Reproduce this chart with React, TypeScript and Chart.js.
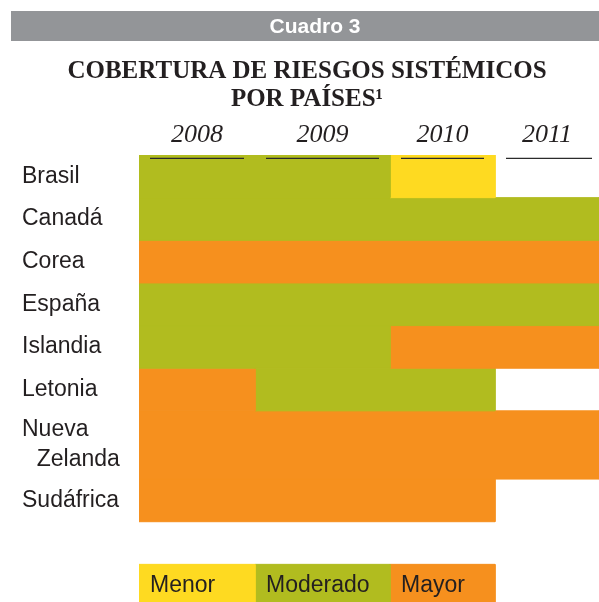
import { useEffect, useRef } from 'react';
import { Chart, registerables } from 'chart.js';

Chart.register(...registerables);

// ---------- data ----------
const YEARS = ['2008', '2009', '2010', '2011'];
const COUNTRIES = ['Brasil', 'Canadá', 'Corea', 'España', 'Islandia', 'Letonia', 'Nueva Zelanda', 'Sudáfrica'];
const LEVELS = ['Menor', 'Moderado', 'Mayor'];
// coverage level per year: 0 = Menor, 1 = Moderado, 2 = Mayor, null = sin dato
const BRASIL = [1, 1, 0, null];
const CANADA = [1, 1, 1, 1];
const COREA = [2, 2, 2, 2];
const ESPANA = [1, 1, 1, 1];
const ISLANDIA = [1, 1, 2, 2];
const LETONIA = [2, 1, 1, null];
const NUEVA_ZELANDA = [2, 2, 2, 2];
const SUDAFRICA = [2, 2, 2, null];
const COVERAGE: (number | null)[][] = [BRASIL, CANADA, COREA, ESPANA, ISLANDIA, LETONIA, NUEVA_ZELANDA, SUDAFRICA];

// ---------- layout / style ----------
const COLUMN_SPANS = [1.16, 1.35, 1.05, 1.04];
const ROW_SPANS = [1, 1, 1, 1, 1, 1, 1.6, 1];
const GAP_SPAN = 1;
const LEGEND_SPAN = 1;
const LEVEL_COLORS = ['#FEDA21', '#B1BC1F', '#F6901E'];
const TEXT = '#231F20';

const cumulative = (spans: number[]) => spans.reduce((acc, s) => [...acc, acc[acc.length - 1] + s], [0]);
const colEdges = cumulative(COLUMN_SPANS);
const rowEdges = cumulative(ROW_SPANS);
const legendTop = rowEdges[rowEdges.length - 1] + GAP_SPAN;
const legendBottom = legendTop + LEGEND_SPAN;
const xMax = colEdges[colEdges.length - 1];
const yMax = legendBottom;
const colCenters = COLUMN_SPANS.map((_, i) => (colEdges[i] + colEdges[i + 1]) / 2);
const rowCenters = ROW_SPANS.map((_, i) => (rowEdges[i] + rowEdges[i + 1]) / 2);

function cell(x0: number, x1: number, y0: number, y1: number, color: string, label: string) {
  return {
    label,
    data: [
      { x: x0, y: y0 },
      { x: x1, y: y0 },
      { x: x1, y: y1 },
      { x: x0, y: y1 },
      { x: x0, y: y0 },
    ],
    showLine: true,
    fill: 'shape',
    tension: 0,
    backgroundColor: color,
    borderColor: color,
    borderWidth: 1,
    pointRadius: 0,
    pointHoverRadius: 0,
  };
}

function buildDatasets() {
  const ds: any[] = [];
  COVERAGE.forEach((row, r) => {
    let c = 0;
    while (c < row.length) {
      const lv = row[c];
      if (lv === null) {
        c++;
        continue;
      }
      let e = c;
      while (e + 1 < row.length && row[e + 1] === lv) e++;
      ds.push(
        cell(colEdges[c], colEdges[e + 1], rowEdges[r], rowEdges[r + 1], LEVEL_COLORS[lv],
          `${COUNTRIES[r]} ${YEARS[c]}-${YEARS[e]}: ${LEVELS[lv]}`)
      );
      c = e + 1;
    }
  });
  LEVELS.forEach((name, i) => {
    ds.push(cell(colEdges[i], colEdges[i + 1], legendTop, legendBottom, LEVEL_COLORS[i], name));
  });
  return ds;
}

const headerPlugin = {
  id: 'header',
  beforeDraw(chart: any) {
    const { ctx } = chart;
    ctx.save();
    ctx.fillStyle = '#939598';
    ctx.fillRect(11, 11, chart.width - 11, 30);
    ctx.fillStyle = '#FFFFFF';
    ctx.font = 'bold 21px "Liberation Sans", Arial, sans-serif';
    ctx.textAlign = 'center';
    ctx.textBaseline = 'alphabetic';
    ctx.fillText('Cuadro 3', 315, 32.7);
    ctx.fillStyle = TEXT;
    ctx.font = 'bold 25px "Liberation Serif", "Times New Roman", serif';
    ctx.fillText('COBERTURA DE RIESGOS SISTÉMICOS', 307, 78.3);
    ctx.fillText('POR PAÍSES¹', 307, 106.3);
    ctx.restore();
  },
};

const overlayPlugin = {
  id: 'overlay',
  afterDatasetsDraw(chart: any) {
    const { ctx, chartArea, scales } = chart;
    const x = scales.x;
    const y = scales.y;
    ctx.save();
    ctx.strokeStyle = '#2B2B2B';
    ctx.lineWidth = 1.3;
    const ly = chartArea.top + 3.3;
    YEARS.forEach((_, i) => {
      const x0 = x.getPixelForValue(colEdges[i]) + 11;
      const x1 = i === YEARS.length - 1 ? chartArea.right - 7 : x.getPixelForValue(colEdges[i + 1]) - 11;
      ctx.beginPath();
      ctx.moveTo(x0, ly);
      ctx.lineTo(x1, ly);
      ctx.stroke();
    });
    ctx.fillStyle = TEXT;
    ctx.font = '23px "Liberation Sans", Arial, sans-serif';
    ctx.textAlign = 'left';
    ctx.textBaseline = 'middle';
    const cy = y.getPixelForValue((legendTop + legendBottom) / 2);
    LEVELS.forEach((name, i) => {
      ctx.fillText(name, x.getPixelForValue(colEdges[i]) + 11, cy);
    });
    ctx.restore();
  },
};

const noPadding = (scale: any) => {
  scale.paddingTop = 0;
  scale.paddingBottom = 0;
  scale.paddingLeft = 0;
  scale.paddingRight = 0;
};

export default function App() {
  const ref = useRef<HTMLCanvasElement>(null);
  useEffect(() => {
    if (!ref.current) return;
    const chart = new Chart(ref.current, {
      type: 'scatter',
      data: { datasets: buildDatasets() },
      options: {
        responsive: false,
        animation: false,
        devicePixelRatio: 1,
        events: [],
        layout: { padding: { left: 22, top: 0, right: 0, bottom: 0 } },
        plugins: {
          legend: { display: false },
          title: { display: false },
          tooltip: { enabled: false },
        },
        scales: {
          x: {
            type: 'linear',
            position: 'top',
            min: 0,
            max: xMax,
            bounds: 'data',
            grid: { display: false, drawTicks: false },
            border: { display: false },
            afterBuildTicks: (scale: any) => {
              scale.ticks = colCenters.map((v) => ({ value: v }));
            },
            afterFit: (scale: any) => {
              scale.height = 155;
              noPadding(scale);
            },
            ticks: {
              autoSkip: false,
              maxRotation: 0,
              padding: 4,
              color: TEXT,
              font: { family: '"Liberation Serif", "Times New Roman", serif', size: 26, style: 'italic', lineHeight: 1.2 },
              callback: (_v: any, i: number) => YEARS[i],
            },
          },
          y: {
            type: 'linear',
            reverse: true,
            min: 0,
            max: yMax,
            bounds: 'data',
            grid: { display: false, drawTicks: false },
            border: { display: false },
            afterBuildTicks: (scale: any) => {
              scale.ticks = rowCenters.map((v) => ({ value: v }));
            },
            afterFit: (scale: any) => {
              scale.width = 117;
              noPadding(scale);
            },
            ticks: {
              autoSkip: false,
              crossAlign: 'far',
              color: TEXT,
              font: { family: '"Liberation Sans", Arial, sans-serif', size: 23, lineHeight: 1.3 },
              callback: (_v: any, i: number) => {
                const name = COUNTRIES[i];
                const parts = name.split(' ');
                return parts.length > 1 ? [parts[0], '  \u200A' + parts.slice(1).join(' ')] : name;
              },
            },
          },
        },
      },
      plugins: [headerPlugin, overlayPlugin],
    } as any);
    return () => chart.destroy();
  }, []);

  return (
    <div
      style={{
        position: 'fixed',
        left: 0,
        top: 0,
        width: 599,
        height: 602,
        overflow: 'hidden',
        background: '#FFFFFF',
      }}
    >
      <canvas ref={ref} width={599} height={607} style={{ display: 'block', width: 599, height: 607 }} />
    </div>
  );
}
